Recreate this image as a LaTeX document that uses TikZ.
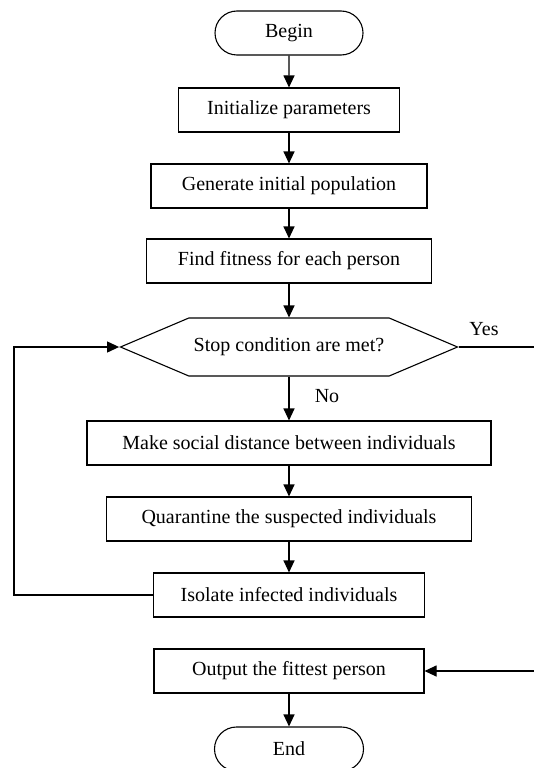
\documentclass[tikz,border=0pt]{standalone}
\usepackage{fontspec}
\setmainfont{Liberation Serif}
\usetikzlibrary{shapes.misc,shapes.symbols,arrows.meta,positioning,calc}

\begin{document}
\begin{tikzpicture} [ % 先定义每类框的样式
    x=1pt, y=-1pt, line width=1.1pt, >={Triangle[length=12pt,width=11pt]},
    font = \fontsize{20}{24}\selectfont,
    term/.style = {shape = rounded rectangle, minimum height = 44pt, minimum width = 148pt, align = center, draw, inner sep = 0pt},
    rec/.style = {shape = rectangle, minimum height = 44pt, align = center, draw, inner sep = 0pt},
    cond/.style = {shape = signal, signal to = west and east, signal pointer angle = 46, minimum height = 58pt, minimum width = 337pt, align = center, draw, inner sep = 0pt},
    lab/.style = {shape = rectangle, align = center, inner sep = 0pt}
]

\useasboundingbox (0,0) rectangle (534,768);

% 主干
\node [term] (begin) at (289,33){Begin};
\node [rec, minimum width = 221pt] (init) at (289,110){Initialize parameters};
\node [rec, minimum width = 276pt] (gen) at (289,186){Generate initial population};
\node [rec, minimum width = 285pt] (fit) at (289,261){Find fitness for each person};
\node [cond] (stop) at (289,347){Stop condition are met?};
\node [rec, minimum width = 404pt] (dist) at (289,443){Make social distance between individuals};
\node [rec, minimum width = 365pt] (quar) at (289,519){Quarantine the suspected individuals};
\node [rec, minimum width = 271pt] (iso) at (289,595){Isolate infected individuals};
\node [rec, minimum width = 270pt] (out) at (289,671){Output the fittest person};
\node [term, minimum width = 149pt] (end) at (289,749){End};

% 标签
\node [lab] (yes) at (484,329){Yes};
\node [lab] (no) at (327,396){No};

% 拐点
\coordinate (yes-r) at (534,347);
\coordinate (out-r) at (534,671);
\coordinate (loop-b) at (14,595);

% 连线
\draw [->](begin)--(init);
\draw [->](init)--(gen);
\draw [->](gen)--(fit);
\draw [->](fit.south)--(stop.north);
\draw [->](stop.south)--(dist.north);
\draw [->](dist)--(quar);
\draw [->](quar)--(iso);
\draw [->](out)--(end);

\draw [->](iso.west)--(loop-b)|-(stop.west);
\draw (stop.east)--(yes-r);
\draw [->](out-r)--(out.east);

\end{tikzpicture}
\end{document}
